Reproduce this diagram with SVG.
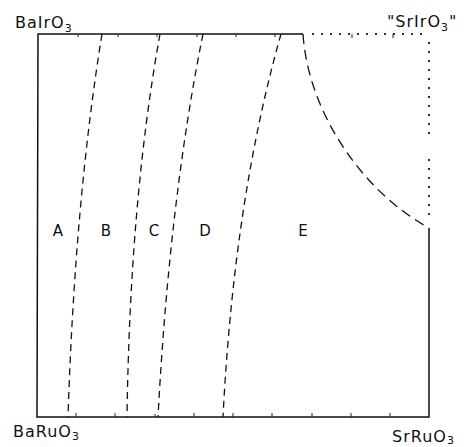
<svg xmlns="http://www.w3.org/2000/svg" width="464" height="447" viewBox="0 0 464 447">
<style>
.frame{fill:none;stroke:#111;stroke-width:1.5}
.tick{fill:none;stroke:#222;stroke-width:1}
.dash{fill:none;stroke:#111;stroke-width:1.3;stroke-dasharray:7 5}
.dashE{fill:none;stroke:#111;stroke-width:1.3;stroke-dasharray:10 6}
.dot{fill:none;stroke:#000;stroke-width:2.2;stroke-linecap:round;stroke-dasharray:0 9}
.lbl{font-family:"DejaVu Sans","Liberation Sans",sans-serif;font-size:16px;fill:#111;letter-spacing:1px}
.reg{font-family:"DejaVu Sans","Liberation Sans",sans-serif;font-size:15px;fill:#111;text-anchor:middle}
.sub{font-size:11px}
</style>
<rect width="464" height="447" fill="#fff"/>
<g id="frame">
  <path class="frame" d="M303,34 L38,34 L37,417 L429,417 L429,228"/>
  <path class="tick" d="M76,417 v-4 M115,417 v-4 M155,417 v-3 M194,417 v-4 M233,417 v-4 M272,417 v-4 M312,417 v-4 M351,417 v-4 M390,417 v-4 M78,34 v3 M118,34 v3 M157,34 v3 M197,34 v3 M236,34 v3 M275,34 v3 M352,34 v4 M393,34 v4"/>
</g>
<g id="dotted-edges">
  <path class="dot" d="M313,34 H429"/>
  <path class="dot" d="M429,43 V142"/>
  <path class="dot" d="M429,160 V222"/>
</g>
<g id="connectors">
  <path id="AB" class="dash" d="M102,34 Q75,200 68,417"/>
  <path id="BC" class="dash" d="M160,34 Q130,200 127,417"/>
  <path id="CD" class="dash" d="M203,34 Q169.5,200 158,417"/>
  <path id="DE" class="dash" d="M281,34 Q234,200 223,417"/>
  <path id="Ebound" class="dashE" d="M303,34 C308,110 360,190 429,228"/>
</g>
<g id="labels">
  <text class="lbl" x="15" y="28">BaIrO<tspan class="sub" dy="4">3</tspan></text>
  <text class="lbl" x="387" y="27">"SrIrO<tspan class="sub" dy="4">3</tspan><tspan dy="-4">"</tspan></text>
  <text class="lbl" x="13" y="437">BaRuO<tspan class="sub" dy="3">3</tspan></text>
  <text class="lbl" x="392" y="442">SrRuO<tspan class="sub" dy="2">3</tspan></text>
</g>
<g id="region-A"><text class="reg" x="58" y="236">A</text></g>
<g id="region-B"><text class="reg" x="106" y="236">B</text></g>
<g id="region-C"><text class="reg" x="154" y="236">C</text></g>
<g id="region-D"><text class="reg" x="205" y="236">D</text></g>
<g id="region-E"><text class="reg" x="303" y="236">E</text></g>
</svg>
